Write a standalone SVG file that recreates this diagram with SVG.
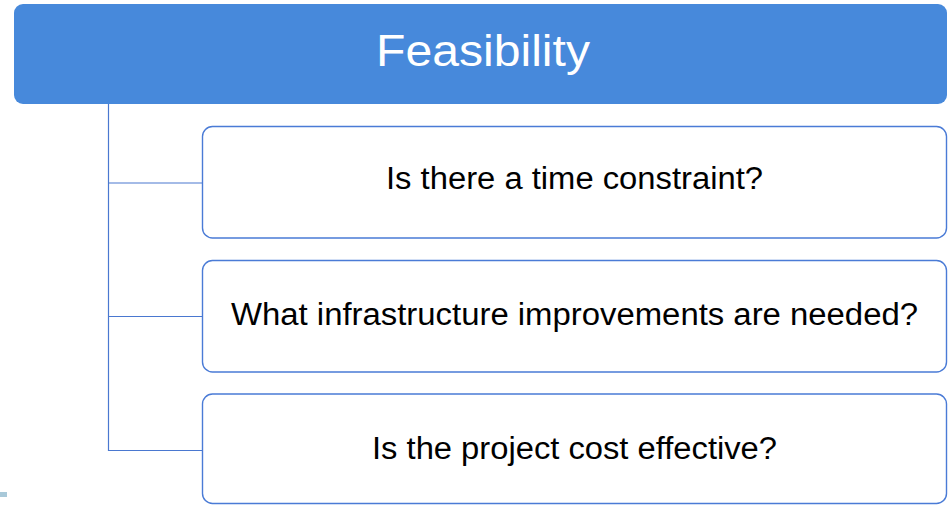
<svg xmlns="http://www.w3.org/2000/svg" width="948" height="505" viewBox="0 0 948 505">
<style>
.box{fill:#ffffff;stroke:#4a7bd6;stroke-width:1.4}
.conn{fill:none;stroke:#4a78d0;stroke-width:1.2}
.t{font-family:"Liberation Sans",Arial,sans-serif;font-size:31px;fill:#000000;text-anchor:middle}
.h{font-family:"Liberation Sans",Arial,sans-serif;font-size:45px;fill:#ffffff;text-anchor:middle}
</style>
<rect x="0" y="0" width="948" height="505" fill="#ffffff"/>
<rect x="0" y="492" width="7" height="5" fill="#a9c9d9"/>
<g id="connectors">
<path class="conn" d="M108.5 104 V450.5 H202.5"/>
<path class="conn" d="M108.5 183 H202.5"/>
<path class="conn" d="M108.5 316.5 H202.5"/>
</g>
<g id="header">
<rect x="14" y="4" width="933" height="100" rx="9" fill="#4789db"/>
<text class="h" x="483" y="66" textLength="214" lengthAdjust="spacingAndGlyphs">Feasibility</text>
</g>
<g id="node1">
<rect class="box" x="202.5" y="126.5" width="744" height="111.5" rx="10"/>
<text class="t" x="574.5" y="189" textLength="377" lengthAdjust="spacingAndGlyphs">Is there a time constraint?</text>
</g>
<g id="node2">
<rect class="box" x="202.5" y="260.5" width="744" height="111.5" rx="10"/>
<text class="t" x="574.5" y="325" textLength="687" lengthAdjust="spacingAndGlyphs">What infrastructure improvements are needed?</text>
</g>
<g id="node3">
<rect class="box" x="202.5" y="394" width="744" height="109.5" rx="10"/>
<text class="t" x="574.5" y="459" textLength="405" lengthAdjust="spacingAndGlyphs">Is the project cost effective?</text>
</g>
</svg>
